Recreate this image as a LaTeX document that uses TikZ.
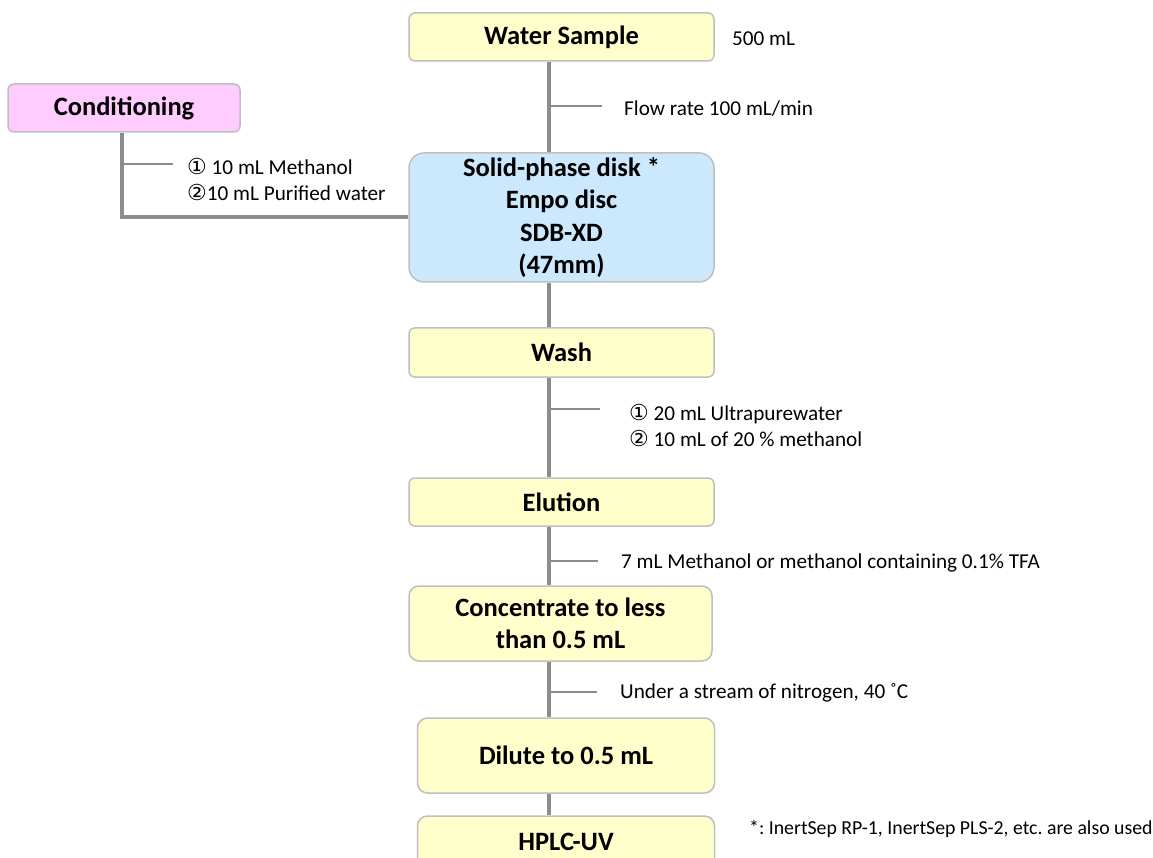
\documentclass[tikz,border=0pt]{standalone}
\usepackage{fontspec}
\setmainfont{Carlito}
\newfontfamily\symfont{DejaVu Sans}
\definecolor{boxline}{HTML}{BFBFBF}
\definecolor{yel}{HTML}{FFFFCC}
\definecolor{blu}{HTML}{CCE8FC}
\definecolor{pnk}{HTML}{FFCCFF}
\definecolor{conn}{HTML}{8C8C8C}
\newcommand{\circnum}[1]{{\symfont\fontsize{22}{26}\selectfont #1}}
\begin{document}
\frenchspacing
\begin{tikzpicture}[x=1pt,y=-1pt,
  stepbox/.style={draw=boxline, line width=1.5pt, fill=yel, rounded corners=6pt,
    inner sep=0pt, font=\bfseries\fontsize{26.5}{32.5}\selectfont, align=center},
  note/.style={font=\fontsize{21.2}{26}\selectfont, anchor=west, inner sep=0pt, align=left},
  mainline/.style={draw=conn, line width=4pt},
  tickline/.style={draw=conn, line width=1.5pt}]
\useasboundingbox (0,0) rectangle (1153,858);
\clip (0,0) rectangle (1153,858);
\fill[white] (0,0) rectangle (1153,858);

% spine coordinates
\coordinate (spine) at (549,0);
\coordinate (cspine) at (122,0);

% boxes
\node[stepbox, minimum width=305pt, minimum height=48pt] (ws) at (561.5,37) {Water Sample};
\node[stepbox, fill=blu, rounded corners=15pt, minimum width=305pt, minimum height=129pt] (disk) at (561.5,217.5)
  {Solid-phase disk *\\Empo disc\\SDB-XD\\(47mm)};
\node[stepbox, fill=pnk, minimum width=232pt, minimum height=48pt] (cond) at (124,108) {Conditioning};
\node[stepbox, minimum width=305pt, minimum height=49pt] (wash) at (561.5,352.5) {Wash};
\node[stepbox, minimum width=305pt, minimum height=48pt] (elu) at (561.5,502) {Elution};
\node[stepbox, rounded corners=10pt, minimum width=303pt, minimum height=75pt] (conc) at (560.5,623.5)
  {Concentrate to less\\than 0.5 mL};
\node[stepbox, rounded corners=10pt, minimum width=297pt, minimum height=75pt] (dil) at (566,755.5) {Dilute to 0.5 mL};
\node[stepbox, rounded corners=10pt, minimum width=297pt, minimum height=52pt] (hplc) at (566,842) {HPLC-UV};

% main spine
\draw[mainline] (ws.south -| spine) -- (disk.north -| spine);
\draw[mainline] (disk.south -| spine) -- (wash.north -| spine);
\draw[mainline] (wash.south -| spine) -- (elu.north -| spine);
\draw[mainline] (elu.south -| spine) -- (conc.north -| spine);
\draw[mainline] (conc.south -| spine) -- (dil.north -| spine);
\draw[mainline] (dil.south -| spine) -- (hplc.north -| spine);

% conditioning line
\draw[mainline] (cond.south -| cspine) |- (disk.west);

% ticks
\coordinate (t1) at (602,106);
\coordinate (tc) at (173,164);
\coordinate (t2) at (600,409);
\coordinate (t3) at (598,561);
\coordinate (t4) at (597,692);
\draw[tickline] (t1 -| spine) -- (t1);
\draw[tickline] (tc -| cspine) -- (tc);
\draw[tickline] (t2 -| spine) -- (t2);
\draw[tickline] (t3 -| spine) -- (t3);
\draw[tickline] (t4 -| spine) -- (t4);

% labels
\node[note] (l0) at (732,39) {500 mL};
\node[note] (l1) at (624,109) {Flow rate 100 mL/min};
\node[note] (lc) at (187,179) {\circnum{①} 10 mL Methanol\\\circnum{②}10 mL Purified water};
\node[note] (l2) at (629,425) {\circnum{①} 20 mL Ultrapurewater\\\circnum{②} 10 mL of 20 \% methanol};
\node[note] (l3) at (621,563) {7 mL Methanol or methanol containing 0.1\% TFA};
\node[note] (l4) at (620,693) {Under a stream of nitrogen, 40 ˚C};
\node[note, font=\fontsize{19.8}{24}\selectfont] (fn) at (749,829) {*: InertSep RP-1, InertSep PLS-2, etc. are also used};
\end{tikzpicture}
\end{document}
